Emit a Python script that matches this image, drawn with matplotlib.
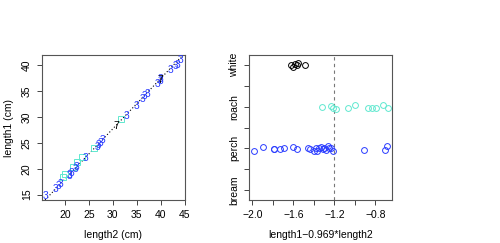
import matplotlib
matplotlib.use('Agg')
import matplotlib.pyplot as plt

plt.rcParams['font.family'] = ['Liberation Sans', 'DejaVu Sans']

# ---- left panel data (length2, length1 in cm) ----
perch_len2 = [16.0, 17.9, 18.6, 19.1, 20.9, 21.0, 21.4, 22.1, 22.5, 24.2, 26.7, 27.0,
              27.4, 27.9, 32.8, 34.9, 36.2, 36.7, 37.2, 39.3, 40.0, 40.0, 42.1, 43.1, 43.5, 44.2]
perch_len1 = [15.0, 16.3, 16.8, 17.3, 19.0, 18.8, 19.4, 20.1, 20.6, 22.3, 24.4, 24.8,
              25.1, 25.8, 30.4, 32.3, 33.6, 34.2, 34.7, 36.6, 37.2, 37.5, 39.2, 40.1, 40.3, 41.2]
roach_len2 = [19.6, 20.0, 21.6, 22.5, 23.5, 26.1, 31.7]
roach_len1 = [18.4, 19.0, 20.3, 21.3, 22.2, 24.0, 29.6]
white_len2 = [30.8, 40.0]
white_len1 = [28.4, 37.3]
line_intercept = -1.35
line_slope = 0.969

# ---- right panel data: length1 - 0.969*length2 by species ----
species = ['bream', 'perch', 'roach', 'white']
perch_res = [-1.985, -1.895, -1.793, -1.787, -1.732, -1.690, -1.602, -1.566, -1.456,
             -1.439, -1.400, -1.380, -1.368, -1.348, -1.335, -1.315, -1.302, -1.283,
             -1.266, -1.251, -1.231, -1.212, -0.909, -0.707, -0.691]
perch_jit = [-0.06, 0.04, -0.025, -0.02, -0.02, 0.01, 0.04, -0.02, 0.0, -0.01, -0.06,
             0.02, -0.06, 0.0, 0.04, -0.01, 0.02, -0.03, 0.05, 0.0, 0.02, -0.06,
             -0.05, -0.04, 0.05]
roach_res = [-1.319, -1.234, -1.215, -1.185, -1.073, -1.0, -0.876, -0.837, -0.795, -0.724, -0.681]
roach_jit = [0.0, 0.01, -0.02, -0.06, -0.02, 0.03, -0.02, -0.02, -0.02, 0.03, -0.02]
white_res = [-1.620, -1.602, -1.585, -1.566, -1.553, -1.488]
white_jit = [0.0, -0.04, 0.02, 0.0, 0.04, 0.0]
ref_line = -1.2

BLUE = '#2a3cff'
CYAN = '#5fe8cf'
FS = 7.5

fig = plt.figure(figsize=(5.0, 2.43), dpi=100)
ax1 = fig.add_axes([42/500, 43/243, 143/500, 145/243])
ax2 = fig.add_axes([249/500, 43/243, 143/500, 145/243])

for ax in (ax1, ax2):
    for s in ax.spines.values():
        s.set_color('#555555')
        s.set_linewidth(0.8)
    ax.tick_params(direction='out', length=3.3, width=0.7, color='#444444',
                   labelsize=FS, pad=4)

# left panel
ax1.axline((0, line_intercept), slope=line_slope, ls=(0, (1, 2)), color='black', lw=0.8)
ax1.plot(roach_len2, roach_len1, ls='none', marker='s', ms=4.0, mfc='none',
         mec=CYAN, mew=0.7)
for x, y in zip(perch_len2, perch_len1):
    ax1.text(x, y, '3', color=BLUE, fontsize=7.5, ha='center', va='center_baseline')
for x, y in zip(white_len2, white_len1):
    ax1.text(x, y, '7', color='black', fontsize=7.5, ha='center', va='center_baseline')
ax1.set_xlim(15.17, 45.1)
ax1.set_ylim(13.97, 41.95)
ax1.set_xticks([20, 25, 30, 35, 40, 45])
ax1.set_yticks([15, 20, 25, 30, 35, 40])
ax1.set_yticklabels(['15', '20', '25', '30', '35', '40'], rotation=90, va='center')
ax1.set_xlabel('length2 (cm)', fontsize=FS, labelpad=7)
ax1.set_ylabel('length1 (cm)', fontsize=FS, labelpad=6)

# right panel
ax2.axvline(ref_line, ls=(0, (3, 3)), color='#777777', lw=0.8)
pos = {s: i + 1 for i, s in enumerate(species)}
ax2.plot(perch_res, [pos['perch'] + j for j in perch_jit], ls='none', marker='o',
         ms=4.2, mfc='none', mec=BLUE, mew=0.7)
ax2.plot(roach_res, [pos['roach'] + j for j in roach_jit], ls='none', marker='o',
         ms=4.2, mfc='none', mec=CYAN, mew=0.7)
ax2.plot(white_res, [pos['white'] + j for j in white_jit], ls='none', marker='o',
         ms=4.2, mfc='none', mec='black', mew=0.7)
ax2.set_xlim(-2.034, -0.639)
ax2.set_ylim(0.76, 4.24)
ax2.set_xticks([-2.0, -1.8, -1.6, -1.4, -1.2, -1.0, -0.8])
ax2.set_xticklabels(['\u22122.0', '', '\u22121.6', '', '\u22121.2', '', '\u22120.8'])
ax2.set_yticks([1, 1.5, 2, 2.5, 3, 3.5, 4])
ax2.set_yticklabels(['bream', '', 'perch', '', 'roach', '', 'white'], rotation=90, va='center')
ax2.set_xlabel('length1\u22120.969*length2', fontsize=FS, labelpad=7)

fig.savefig('out.png', dpi=100)
